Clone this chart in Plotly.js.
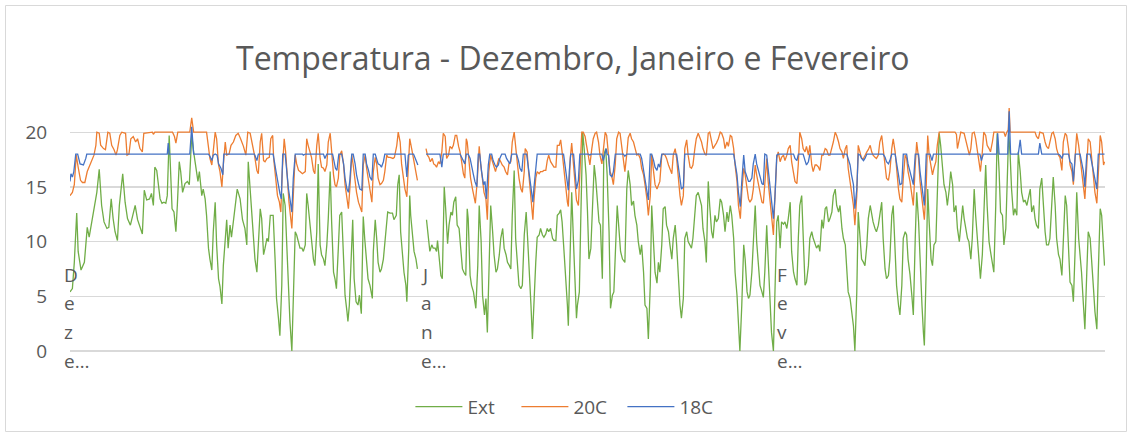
<!DOCTYPE html>
<html>
<head>
<meta charset="utf-8">
<script src="https://cdn.plot.ly/plotly-3.0.1.min.js"></script>
<style>
  html, body { margin: 0; padding: 0; background: #fff; }
  #chart { width: 1132px; height: 437px; }
</style>
</head>
<body>
<div id="chart"></div>
<script>
// months shown on the category axis, and the hour index where each one starts
const monthNames = ['Dezembro', 'Janeiro', 'Fevereiro'];
const monthStartHour = [0, 744, 1488];
const totalHours = 2160;

const seriesNames = ['Ext', '20C', '18C'];
const seriesColors = ['#70AD47', '#ED7D31', '#4472C4'];

// [hour, temperature] readings, null = missing data
const extReadings = [
  [0,5.4],[5,5.7],[9,8.1],[14,12.6],[17,9.1],[23,7.4],[30,8.1],[36,11.3],[40,10.4],[45,11.8],[52,13.6],[56,14.5],[61,16.6],[66,13.3],[71,11.8],[77,11.2],[81,11.3],[86,13.9],[90,12.1],[94,10.9],[99,10.1],[103,13.3],[110,16.2],[115,13.6],[120,12.1],[126,11.5],[131,12.4],[136,13.3],[141,12.0],[146,11.3],[151,10.7],[155,14.7],[160,13.8],[166,13.9],
  [170,14.4],[174,13.3],[177,16.8],[181,16.5],[184,15.2],[188,13.9],[192,13.5],[196,13.6],[200,13.5],[203,14.2],[207,19.7],[210,17.0],[213,13.0],[217,12.7],[221,10.9],[224,13.3],[228,17.3],[231,16.4],[235,14.5],[240,15.3],[245,15.5],[249,15.2],[254,19.7],[258,18.2],[263,16.4],[267,15.5],[270,16.4],[275,14.2],[278,14.8],[282,13.9],[285,12.4],[289,9.4],[292,8.4],[296,7.4],[299,10.9],[303,13.6],[306,9.7],[310,6.6],[313,5.9],[317,4.3],[320,7.8],[324,10.6],[327,12.0],[330,9.4],[334,11.5],[337,10.4],[344,13.3],[349,14.8],[355,13.9],[360,12.0],[365,11.2],
  [369,9.7],[372,17.3],[376,14.5],[379,12.7],[383,10.3],[386,8.4],[390,7.2],[393,9.7],[397,13.0],[400,12.1],[404,8.8],[407,9.4],[411,10.3],[414,10.0],[418,12.4],[421,12.4],[424,12.4],[428,8.4],[431,4.8],[435,3.0],[438,1.4],[442,6.0],[445,14.4],[449,13.3],[452,10.3],[456,5.4],[459,2.7],[463,0.0],[466,5.7],[470,10.9],[473,10.6],[477,10.0],[480,9.4],[484,9.4],[487,9.1],[491,9.7],[494,14.4],[497,13.3],[501,11.5],[504,10.3],[508,8.4],[511,7.8],[515,10.9],[518,17.1],[522,9.7],[525,8.8],[529,8.4],[532,7.8],[536,9.7],[539,12.1],[543,16.4],[546,11.8],[550,7.2],[553,6.6],[556,5.7],[560,9.4],[563,12.4],[567,12.7],
  [571,8.8],[574,5.1],[578,3.6],[580,2.7],[583,4.2],[586,7.8],[590,12.0],[593,6.6],[597,4.5],[601,4.2],[604,5.1],[608,3.4],[612,12.3],[615,10.3],[619,8.1],[622,6.6],[626,6.0],[631,4.8],[633,9.1],[637,12.0],[640,10.3],[643,8.1],[647,7.2],[650,7.5],[654,8.4],[659,10.9],[663,12.7],[668,12.6],[673,12.6],[676,12.0],[681,12.4],[684,15.2],[687,16.1],[690,10.9],[694,8.8],[697,7.2],[701,6.0],[703,4.5],[707,9.4],[709,14.2],[711,12.4],[715,10.3],[718,9.1],[722,8.4],[725,7.5],[735,null],[744,12.0],[747,10.9],[751,9.1],[755,9.7],[758,9.4],
  [762,9.4],[765,9.1],[767,10.1],[770,8.4],[774,6.9],[777,6.6],[781,15.0],[784,13.0],[788,9.8],[791,11.5],[795,12.7],[798,12.4],[801,13.6],[805,14.1],[808,11.5],[812,11.2],[815,9.7],[819,7.5],[822,7.2],[826,6.9],[829,13.0],[831,12.1],[835,6.9],[838,6.0],[842,5.4],[845,4.2],[847,3.9],[851,7.8],[854,13.3],[858,10.0],[861,5.1],[865,3.3],[868,4.8],[871,1.7],[875,9.7],[878,13.3],[882,10.9],[885,8.8],[889,7.2],[892,7.5],[896,8.8],[899,10.3],[903,11.2],[906,9.4],[910,8.8],[913,8.1],[917,7.8],[920,7.5],[923,12.4],[927,16.5],[930,10.3],[934,7.2],[937,6.0],[941,5.7],[944,6.0],[948,10.6],[952,12.7],[955,10.3],[958,8.1],
  [962,4.2],[965,1.1],[968,4.5],[972,8.1],[975,10.4],[979,10.6],[982,11.2],[986,10.6],[989,10.4],[993,10.7],[996,11.2],[999,10.9],[1003,11.2],[1007,10.3],[1010,10.1],[1014,10.1],[1017,12.4],[1021,12.6],[1024,12.9],[1027,11.8],[1031,9.1],[1035,6.6],[1038,4.2],[1040,2.3],[1044,10.3],[1047,14.5],[1051,9.7],[1054,6.0],[1057,3.0],[1059,4.2],[1063,5.4],[1066,12.1],[1070,20.0],[1073,18.5],[1077,16.1],[1080,12.7],[1083,8.4],[1087,9.4],[1090,12.7],[1094,17.0],[1097,15.8],[1101,13.3],[1104,11.8],[1107,11.5],[1111,6.6],[1114,17.9],[1118,18.5],[1121,16.1],[1125,10.9],[1128,3.9],[1132,5.1],[1135,5.4],[1139,10.3],[1142,13.3],[1146,10.9],[1149,9.1],[1153,8.4],
  [1158,8.1],[1162,14.8],[1165,16.5],[1169,15.2],[1172,13.3],[1176,13.7],[1179,12.4],[1183,11.5],[1186,10.0],[1190,8.8],[1193,9.7],[1197,7.2],[1200,4.2],[1204,3.9],[1207,1.1],[1211,6.0],[1214,13.3],[1218,9.7],[1221,7.2],[1225,6.2],[1228,8.1],[1231,7.2],[1235,9.7],[1238,13.0],[1242,13.2],[1245,11.5],[1249,10.9],[1252,9.7],[1256,8.4],[1259,10.3],[1263,11.5],[1266,9.7],[1270,6.0],[1273,4.2],[1276,3.0],[1280,4.8],[1283,10.3],[1287,10.9],[1290,10.0],[1294,9.7],[1297,9.4],[1300,10.3],[1304,13.0],[1307,14.2],[1311,14.5],[1314,13.9],[1318,13.3],[1321,11.2],[1325,10.0],[1328,8.1],[1332,15.5],[1335,13.3],[1339,10.9],[1342,10.3],[1346,12.4],[1349,11.8],[1353,12.1],
  [1357,13.9],[1360,13.6],[1364,12.4],[1367,10.9],[1371,12.7],[1374,11.8],[1378,13.3],[1381,12.4],[1385,10.3],[1388,7.2],[1392,5.1],[1395,2.7],[1398,0.0],[1402,4.2],[1406,9.7],[1409,8.4],[1413,5.4],[1416,4.8],[1419,5.1],[1423,7.2],[1426,10.3],[1430,13.3],[1433,10.0],[1437,7.2],[1440,6.0],[1444,5.4],[1447,4.9],[1450,7.2],[1454,11.5],[1457,8.4],[1461,4.2],[1464,1.7],[1468,0.0],[1471,4.2],[1475,11.8],[1478,12.4],[1482,9.4],[1485,11.8],[1489,11.6],[1492,11.8],[1496,11.2],[1499,12.1],[1503,13.6],[1506,9.1],[1510,7.2],[1513,6.6],[1517,6.0],[1520,10.3],[1523,13.3],[1527,14.2],[1530,10.3],[1534,6.0],[1537,6.3],[1541,7.8],[1544,10.3],[1548,10.9],[1551,10.3],
  [1555,9.7],[1558,9.4],[1562,9.7],[1565,9.1],[1569,12.0],[1572,11.2],[1576,13.0],[1579,13.2],[1583,11.8],[1586,12.1],[1590,12.7],[1593,14.2],[1597,14.8],[1600,13.3],[1604,12.7],[1607,13.3],[1611,11.2],[1614,10.3],[1618,9.7],[1621,7.8],[1624,5.4],[1628,4.8],[1631,3.6],[1635,2.3],[1638,0.0],[1642,5.4],[1645,12.7],[1649,10.3],[1652,8.4],[1656,8.1],[1659,7.8],[1663,9.7],[1666,12.1],[1670,13.3],[1673,12.4],[1676,11.8],[1680,11.2],[1683,10.9],[1687,11.5],[1690,12.4],[1694,13.6],[1697,10.3],[1701,7.5],[1704,6.6],[1708,6.9],[1711,8.4],[1715,12.4],[1718,13.3],[1722,9.7],[1725,6.0],[1729,4.2],[1732,3.3],[1736,6.0],[1739,10.3],[1743,10.9],[1746,10.6],[1749,8.4],
  [1753,7.0],[1757,5.0],[1760,3.3],[1764,10.3],[1767,14.5],[1771,11.8],[1774,7.8],[1778,4.2],[1781,1.7],[1783,0.5],[1787,7.8],[1790,14.8],[1793,11.8],[1797,8.4],[1800,7.8],[1803,9.7],[1807,10.0],[1810,13.6],[1814,19.9],[1817,18.8],[1821,17.0],[1824,15.2],[1828,14.5],[1831,13.3],[1835,14.8],[1838,16.4],[1842,15.2],[1845,12.7],[1849,13.3],[1852,11.2],[1856,10.0],[1859,11.5],[1863,13.3],[1866,12.1],[1870,10.9],[1873,10.3],[1876,10.0],[1880,8.4],[1883,10.3],[1887,14.8],[1890,12.4],[1894,9.7],[1897,8.1],[1900,6.6],[1904,8.8],[1908,12.7],[1911,17.0],[1914,13.3],[1918,10.0],[1921,9.1],[1925,8.1],[1928,7.2],[1932,13.3],[1935,19.9],[1939,16.4],[1942,12.7],[1946,12.4],[1949,9.7],[1953,11.2],[1956,16.4],[1959,20.0],[1962,17.9],
  [1965,14.8],[1969,12.4],[1972,13.0],[1976,12.4],[1979,18.2],[1983,16.4],[1986,14.5],[1990,13.6],[1993,13.8],[1997,13.3],[2000,13.9],[2004,14.8],[2007,12.7],[2011,13.3],[2014,12.1],[2017,11.5],[2021,11.2],[2024,14.8],[2028,15.8],[2031,13.3],[2035,10.9],[2038,9.7],[2042,9.7],[2045,10.3],[2049,13.3],[2052,15.9],[2056,13.3],[2059,10.3],[2063,8.8],[2066,8.4],[2070,6.9],[2073,9.7],[2077,14.2],[2080,13.3],[2084,9.7],[2087,6.3],[2091,6.0],[2094,4.5],[2098,9.7],[2101,14.5],[2105,10.3],[2108,8.8],[2111,7.2],[2115,4.2],[2118,2.0],[2122,7.2],[2125,10.9],[2129,10.3],[2132,7.8],[2136,5.7],[2139,3.6],[2143,2.0],[2146,7.2],[2150,13.0],[2153,12.4],[2157,9.1],[2159,7.8]
];

const t20Readings = [
  [0,14.2],[5,14.5],[9,15.2],[13,17.9],[17,16.8],[22,15.6],[26,15.4],[31,15.4],[36,16.4],[40,16.8],[45,17.3],[50,17.9],[54,18.8],[56,20.0],[61,19.9],[64,18.8],[70,18.5],[74,18.4],[79,20.0],[83,19.9],[87,18.8],[92,18.4],[96,17.9],[99,18.4],[104,19.7],[108,20.0],[116,19.9],[119,17.9],[123,18.0],[127,19.4],[132,19.6],[137,19.1],[141,19.4],[146,18.5],[151,18.2],[154,19.9],
  [172,20.0],[174,19.8],[177,20.0],[214,20.0],[218,19.6],[221,19.0],[225,20.0],[250,20.0],[254,21.3],[258,20.0],[285,20.0],[289,18.5],[292,17.6],[296,17.0],[299,18.5],[303,20.0],[306,19.4],[310,17.0],[313,16.4],[317,15.0],[320,17.0],[324,19.1],[327,17.9],[332,18.0],[336,18.8],[341,19.1],[346,19.7],[351,19.9],[356,19.4],[362,18.7],[367,17.9],
  [371,20.0],[376,19.9],[379,19.3],[385,17.9],[390,16.5],[393,16.2],[397,19.1],[400,19.9],[404,17.4],[407,17.3],[411,17.6],[416,17.7],[419,19.4],[423,19.7],[425,17.6],[430,15.8],[433,14.2],[437,13.6],[440,12.7],[443,16.4],[447,19.4],[450,18.2],[453,16.1],[457,13.6],[460,12.4],[463,11.2],[467,15.2],[470,17.9],[473,17.1],[477,16.5],[480,16.4],[485,16.2],[491,16.4],[494,19.4],[497,18.8],[501,18.2],[504,17.7],[508,16.5],[511,16.2],[515,18.8],[518,19.9],[522,17.6],[525,16.8],[529,16.7],[532,16.4],[536,17.0],[539,19.1],[543,19.9],[546,17.9],[550,16.1],[553,15.2],[556,15.0],[560,15.8],[563,17.9],[567,18.3],
  [571,17.0],[574,15.2],[578,13.6],[581,13.0],[584,14.8],[588,17.9],[591,17.0],[595,15.5],[598,14.5],[602,13.6],[605,13.2],[609,12.7],[612,17.0],[616,17.9],[619,16.7],[623,15.5],[626,14.5],[630,13.6],[633,16.4],[637,17.7],[640,17.1],[643,15.8],[647,15.2],[650,15.3],[654,15.6],[657,16.4],[661,17.9],[664,17.7],[668,17.7],[674,17.6],[677,17.7],[682,18.8],[685,20.0],[689,19.1],[692,17.1],[696,15.6],[699,14.8],[703,14.1],[706,17.1],[709,19.4],[713,18.5],[717,17.4],[720,16.7],[725,15.6],[735,null],[743,18.5],[746,17.9],[749,17.7],[752,17.3],[756,17.6],[759,17.1],
  [762,17.0],[765,16.8],[769,17.3],[772,17.1],[776,18.2],[779,19.9],[783,19.6],[786,17.6],[790,17.9],[793,18.7],[797,18.5],[800,18.8],[804,19.7],[807,19.7],[811,18.7],[814,18.2],[817,17.4],[821,16.2],[824,15.8],[827,19.4],[829,19.1],[833,17.0],[836,15.8],[840,14.8],[843,14.2],[846,13.5],[850,15.6],[854,18.7],[857,17.1],[861,15.5],[864,14.5],[868,13.9],[871,12.0],[874,16.4],[878,17.9],[881,17.4],[885,16.7],[888,16.4],[892,17.1],[895,17.6],[899,17.3],[902,17.0],[906,16.8],[909,16.4],[913,16.1],[916,17.1],[920,17.3],[923,19.1],[927,20.0],[930,18.5],[934,17.0],[937,15.8],[941,14.8],[944,14.5],[948,16.4],[950,18.5],[954,18.2],[957,16.4],[961,14.5],[964,12.8],[966,12.0],[968,13.6],
  [972,15.8],[975,16.4],[979,16.2],[982,16.4],[986,16.4],[989,16.5],[993,16.5],[996,17.4],[999,17.9],[1003,17.3],[1007,17.0],[1010,16.8],[1014,16.8],[1017,18.8],[1021,18.8],[1024,19.3],[1027,18.2],[1031,16.4],[1035,14.8],[1038,13.6],[1040,13.2],[1044,17.6],[1047,19.0],[1051,17.0],[1054,14.8],[1057,13.8],[1061,13.3],[1064,16.4],[1068,20.0],[1071,20.0],[1075,19.6],[1078,18.8],[1082,17.6],[1085,17.0],[1089,18.5],[1092,19.4],[1096,19.9],[1099,20.0],[1103,19.1],[1106,17.9],[1110,17.1],[1113,18.5],[1117,20.0],[1120,19.7],[1124,17.6],[1127,16.4],[1131,15.9],[1134,15.2],[1138,17.1],[1141,19.4],[1145,20.0],[1148,19.9],[1152,18.5],[1155,17.4],[1158,16.4],[1162,18.0],[1165,19.5],[1169,19.9],
  [1172,19.4],[1176,19.1],[1179,18.5],[1183,17.9],[1186,18.0],[1190,17.6],[1193,16.7],[1197,16.1],[1200,15.2],[1204,13.9],[1207,12.4],[1211,14.2],[1214,17.9],[1218,16.4],[1221,15.2],[1225,14.8],[1228,15.2],[1231,15.5],[1235,17.9],[1238,18.0],[1242,17.9],[1245,17.6],[1249,17.0],[1252,16.7],[1256,16.2],[1259,17.9],[1263,18.5],[1266,17.6],[1270,15.5],[1273,14.2],[1276,13.3],[1280,14.2],[1283,18.5],[1287,19.3],[1290,17.9],[1294,16.8],[1297,16.7],[1300,17.0],[1304,18.5],[1307,19.4],[1311,19.9],[1314,19.6],[1318,19.1],[1321,18.5],[1325,18.0],[1328,17.9],[1332,19.9],[1335,20.0],[1339,19.1],[1342,18.5],[1346,18.8],[1349,19.0],[1353,19.4],
  [1357,20.0],[1360,19.9],[1364,19.4],[1367,18.5],[1371,19.1],[1374,18.7],[1378,19.7],[1381,19.6],[1385,18.5],[1388,17.0],[1392,15.5],[1395,13.3],[1399,12.1],[1402,14.5],[1406,16.7],[1409,16.1],[1413,14.8],[1416,13.9],[1419,13.6],[1423,13.9],[1426,14.8],[1430,17.0],[1433,16.1],[1437,15.2],[1440,14.2],[1444,13.6],[1447,13.5],[1450,15.5],[1454,17.6],[1457,15.5],[1461,13.6],[1464,12.4],[1468,10.6],[1471,13.9],[1475,17.6],[1478,18.2],[1482,17.3],[1485,17.7],[1489,17.9],[1492,17.4],[1496,17.9],[1499,18.5],[1503,18.8],[1506,17.3],[1510,16.4],[1513,15.5],[1517,15.3],[1520,17.1],[1523,20.0],[1527,19.4],[1530,18.5],[1534,18.2],[1537,18.7],[1541,17.9],[1544,18.8],[1548,17.0],[1551,16.4],
  [1555,17.0],[1558,17.0],[1562,16.8],[1565,16.5],[1569,17.9],[1572,17.9],[1576,18.5],[1579,18.4],[1583,17.9],[1586,17.9],[1590,18.5],[1593,19.1],[1597,20.0],[1600,19.7],[1604,19.1],[1607,18.5],[1611,18.2],[1614,17.6],[1618,18.5],[1621,18.8],[1624,16.7],[1628,15.5],[1631,14.5],[1635,13.3],[1638,11.5],[1642,14.2],[1645,18.8],[1649,18.2],[1652,17.6],[1656,17.6],[1659,17.9],[1663,18.2],[1666,18.4],[1670,18.8],[1673,18.2],[1676,17.9],[1680,17.7],[1683,17.6],[1687,17.9],[1690,19.1],[1694,19.7],[1697,18.5],[1701,16.7],[1704,15.8],[1708,15.6],[1711,16.4],[1715,18.5],[1718,19.4],[1722,18.2],[1725,16.4],[1729,14.8],[1732,13.9],[1736,13.6],[1739,15.8],[1743,17.9],[1746,17.6],[1749,16.4],[1753,15.5],[1757,14.2],[1760,13.3],[1764,17.0],
  [1767,19.1],[1771,17.6],[1774,15.5],[1778,13.9],[1781,13.0],[1783,12.0],[1787,15.2],[1790,19.7],[1793,17.9],[1797,16.8],[1800,16.1],[1803,16.7],[1807,17.3],[1810,18.8],[1814,20.0],[1847,20.0],[1850,19.8],[1852,18.5],[1856,19.4],[1859,20.0],[1866,19.9],[1870,19.1],[1873,18.4],[1877,17.9],[1880,18.5],[1883,19.9],[1887,20.0],[1890,19.4],[1894,18.2],[1897,17.0],[1900,16.4],[1904,18.2],[1907,20.0],[1911,19.7],[1914,18.8],[1918,18.5],[1921,18.2],[1925,19.1],[1928,20.0],[1949,20.0],[1952,19.6],[1955,20.0],[1958,20.2],[1960,22.2],[1962,20.0],
  [1976,20.0],[2014,20.0],[2017,19.6],[2021,19.4],[2024,20.0],[2031,19.9],[2035,19.1],[2038,18.7],[2042,18.5],[2045,19.1],[2049,19.9],[2052,20.0],[2056,19.4],[2059,18.5],[2063,17.9],[2066,17.7],[2070,16.5],[2073,19.1],[2077,19.9],[2080,19.7],[2084,18.5],[2087,17.0],[2091,16.4],[2094,15.2],[2098,18.2],[2101,19.9],[2105,18.8],[2108,17.6],[2111,16.4],[2115,15.2],[2118,13.9],[2122,17.0],[2125,19.4],[2129,19.1],[2132,17.6],[2136,16.1],[2139,14.5],[2143,13.5],[2146,16.4],[2150,19.7],[2153,19.1],[2157,17.0],[2159,17.3]
];

const t18Readings = [
  [0,15.5],[2,16.2],[5,15.9],[8,16.4],[12,18.0],[16,18.0],[21,17.1],[28,17.0],[33,17.6],[35,18.0],
  [203,18.0],[205,19.0],[207,18.0],[250,18.0],[254,20.5],[258,18.0],
  [289,18.0],[292,17.8],[296,17.4],[299,17.9],[303,18.0],[307,17.9],[310,17.1],[315,16.7],[319,16.1],[321,18.0],
  [385,18.0],[390,17.4],[393,18.0],[424,18.0],[430,16.4],[434,15.2],[438,14.4],[441,13.9],[444,18.0],
  [449,18.0],[452,16.4],[456,14.8],[459,13.9],[463,12.7],[466,15.8],[470,18.0],[485,18.0],[487,17.9],[491,18.0],
  [529,18.0],[532,17.6],[536,18.0],[548,18.0],[551,17.4],[554,16.7],[557,16.5],[561,18.0],
  [567,18.0],[571,17.1],[574,15.8],[578,14.8],[581,14.5],[584,15.6],[588,18.0],[591,18.0],[595,17.1],[598,16.1],[602,15.3],[605,14.8],[609,14.7],[612,18.0],[616,18.0],[619,17.1],[623,16.5],[626,15.9],[630,15.6],[633,18.0],[637,18.0],[640,17.6],[643,17.1],[647,17.0],[650,16.8],[654,17.3],[657,18.0],
  [699,18.0],[703,15.9],[706,17.9],[708,18.0],[717,18.0],[720,17.6],[726,17.0],[735,null],[743,18.0],
  [772,18.0],[776,16.8],[779,18.0],[814,18.0],[817,17.7],[821,17.3],[824,17.1],[827,18.0],
  [831,18.0],[835,17.6],[838,16.8],[842,16.1],[845,15.5],[849,15.0],[852,18.0],
  [855,18.0],[859,16.4],[863,15.2],[866,15.5],[869,13.9],[873,17.0],[876,18.0],
  [880,18.0],[883,17.4],[887,17.0],[890,16.8],[894,17.0],[897,17.6],[901,18.0],
  [908,18.0],[911,17.6],[915,17.3],[918,17.1],[922,18.0],[932,18.0],[936,17.4],[939,16.7],[943,16.4],[946,18.0],
  [953,18.0],[956,17.0],[960,15.5],[963,14.2],[966,13.6],[968,14.8],[972,16.4],[975,18.0],
  [1030,18.0],[1033,17.0],[1037,15.8],[1040,14.7],[1042,16.4],[1045,18.0],
  [1051,18.0],[1054,16.4],[1057,14.8],[1061,15.6],[1064,18.0],[1082,18.0],[1085,17.9],[1087,18.0],
  [1110,18.0],[1113,17.4],[1117,18.0],[1119,18.5],[1121,18.0],[1124,17.9],[1127,16.1],[1131,15.9],[1134,16.4],[1138,18.0],
  [1155,18.0],[1158,17.8],[1162,18.0],
  [1190,18.0],[1193,17.6],[1197,16.4],[1200,15.5],[1204,14.7],[1207,13.8],[1211,18.0],
  [1214,18.0],[1218,17.4],[1221,16.8],[1225,16.5],[1228,17.1],[1231,16.8],[1235,18.0],
  [1266,18.0],[1270,16.7],[1273,15.5],[1276,14.8],[1280,15.0],[1283,18.0],
  [1385,18.0],[1388,17.3],[1392,16.1],[1395,14.5],[1399,13.2],[1402,15.5],[1406,17.9],[1409,16.4],[1413,15.8],[1416,15.5],[1419,15.5],[1423,15.8],[1426,17.1],[1430,18.0],[1433,17.1],[1437,16.4],[1440,15.8],[1444,15.3],[1447,15.2],[1450,18.0],[1454,17.9],[1457,16.7],[1461,15.5],[1464,14.1],[1468,12.1],[1471,13.9],[1475,17.9],[1478,18.0],
  [1510,18.0],[1513,17.6],[1517,17.4],[1520,18.0],[1530,18.0],[1534,17.4],[1537,17.0],[1541,17.3],[1544,18.0],
  [1621,18.0],[1624,17.6],[1628,17.0],[1631,16.1],[1635,15.2],[1638,13.0],[1642,14.8],[1645,18.0],[1649,17.9],[1652,17.6],[1656,17.4],[1659,17.6],[1663,18.0],
  [1697,18.0],[1701,17.7],[1704,17.3],[1708,17.1],[1711,17.4],[1715,18.0],
  [1722,18.0],[1725,17.3],[1729,16.1],[1732,15.2],[1736,15.3],[1739,18.0],
  [1746,18.0],[1749,17.1],[1753,16.4],[1756,15.9],[1760,15.2],[1764,18.0],
  [1771,18.0],[1774,16.4],[1778,14.8],[1781,13.6],[1783,13.3],[1787,18.0],[1795,18.0],[1799,17.4],[1802,18.0],
  [1899,18.0],[1902,17.4],[1906,18.0],[1934,18.0],[1936,19.9],[1939,18.0],
  [1957,18.0],[1960,21.9],[1963,18.0],[1979,18.0],[1983,19.3],[1986,18.0],[2021,18.0],[2024,19.0],[2028,18.0],
  [2063,18.0],[2066,17.9],[2070,17.6],[2073,18.0],[2084,18.0],[2087,17.3],[2091,17.1],[2094,15.5],[2098,18.0],
  [2108,18.0],[2111,17.4],[2115,16.4],[2118,15.0],[2122,18.0],
  [2129,18.0],[2132,17.3],[2136,16.4],[2139,15.6],[2143,14.8],[2146,18.0],[2159,18.0]
];

const textColor = '#595959';
const gridColor = '#d9d9d9';
const fontFamily = '"Open Sans", "Noto Sans", sans-serif';

const traces = [extReadings, t20Readings, t18Readings].map((readings, i) => ({
  x: readings.map(r => r[0]),
  y: readings.map(r => r[1]),
  type: 'scatter',
  mode: 'lines',
  name: seriesNames[i],
  line: { color: seriesColors[i], width: 1.3 },
  connectgaps: false,
  hoverinfo: 'skip',
}));

// Excel wraps the month name one letter per line and cuts it after four lines
const lineShifts = [76, 48, 19, -10];
const annotations = [];
monthNames.forEach((name, i) => {
  const pieces = [name[0], name[1], name[2], name[3] + '\u2026'];
  pieces.forEach((piece, j) => {
    annotations.push({
      x: monthStartHour[i], xref: 'x',
      y: 0, yref: 'y',
      xanchor: 'left', yanchor: 'middle',
      xshift: -8, yshift: lineShifts[j],
      text: piece, showarrow: false,
      font: { family: fontFamily, size: 19, color: textColor },
    });
  });
});

const layout = {
  width: 1132,
  height: 437,
  margin: { l: 70, r: 27, t: 107, b: 86 },
  paper_bgcolor: '#ffffff',
  plot_bgcolor: '#ffffff',
  font: { family: fontFamily, color: textColor },
  title: {
    text: 'Temperatura - Dezembro, Janeiro e Fevereiro',
    font: { family: fontFamily, size: 32, color: textColor },
    xref: 'container', x: 0.506, xanchor: 'center',
    yref: 'container', y: 0.866, yanchor: 'middle',
  },
  xaxis: {
    range: [0, totalHours],
    showgrid: false, zeroline: false, showline: false,
    showticklabels: false, ticks: '',
  },
  yaxis: {
    range: [0, 22.3],
    dtick: 5,
    showgrid: true, gridcolor: gridColor, gridwidth: 1.3,
    zeroline: true, zerolinecolor: gridColor, zerolinewidth: 1.3,
    showline: false,
    ticks: 'outside', ticklen: 18, tickcolor: 'rgba(0,0,0,0)',
    tickfont: { family: fontFamily, size: 19, color: textColor },
  },
  showlegend: true,
  legend: {
    orientation: 'h',
    xref: 'container', x: 0.503, xanchor: 'center',
    yref: 'container', y: 0.069, yanchor: 'middle',
    itemwidth: 47,
    entrywidth: 44,
    font: { family: fontFamily, size: 19, color: textColor },
  },
  annotations: annotations,
  shapes: [{
    type: 'rect', xref: 'paper', yref: 'paper',
    x0: (5.5 - 70) / 1035, x1: (1126.5 - 70) / 1035,
    y0: (351 - 431.5) / 244, y1: (351 - 5.5) / 244,
    line: { color: gridColor, width: 1 },
  }],
};

Plotly.newPlot('chart', traces, layout, { displayModeBar: false, staticPlot: true });
</script>
</body>
</html>
